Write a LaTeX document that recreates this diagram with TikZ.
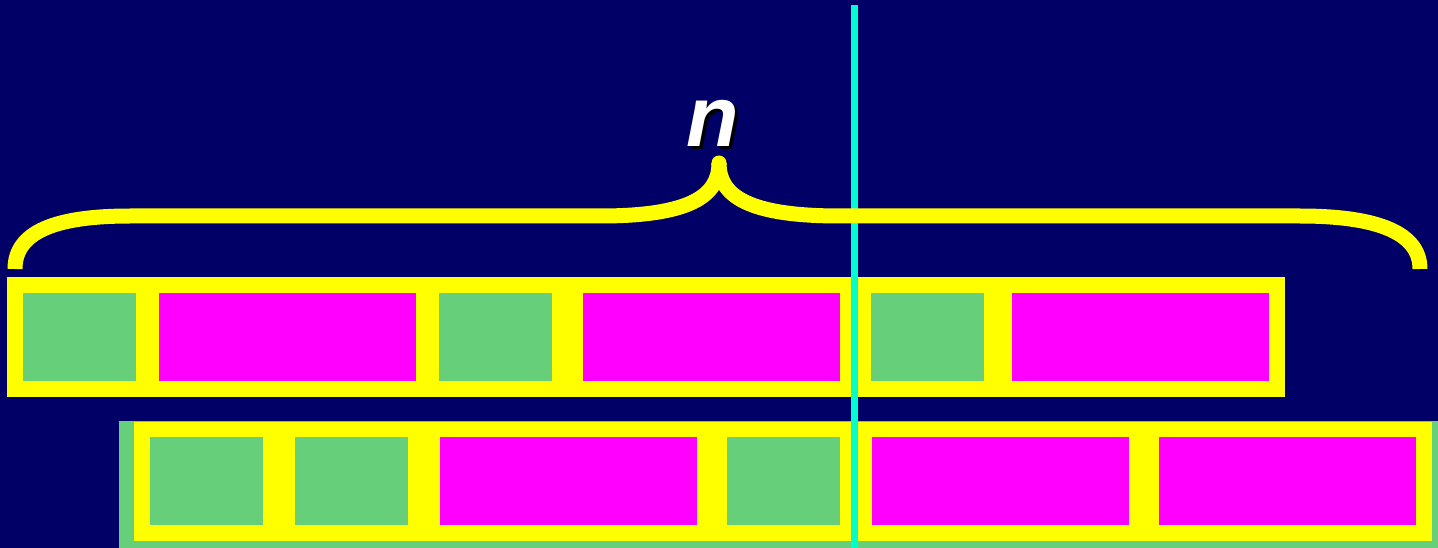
\documentclass[tikz,border=0pt]{standalone}
\usepackage{fontspec}
\newfontfamily\labelfont{Liberation Sans}
\definecolor{navy}{HTML}{000066}
\definecolor{cgreen}{HTML}{66CF7A}
\definecolor{cmag}{HTML}{FF00FF}
\definecolor{cyel}{HTML}{FFFF00}
\definecolor{ccyan}{HTML}{00FFCC}
\begin{document}
\begin{tikzpicture}[x=1pt,y=-1pt,
  gcell/.style={fill=cgreen,inner sep=0pt,anchor=north west,minimum height=88pt},
  mcell/.style={fill=cmag,inner sep=0pt,anchor=north west,minimum height=88pt},
  rowbar/.style={fill=cyel},
  brace/.style={draw=cyel,line width=15pt,line cap=butt,line join=round},
  lbl/.style={font=\labelfont\bfseries\itshape\fontsize{86}{86}\selectfont,inner sep=0pt,anchor=base}]
\useasboundingbox (0,0) rectangle (1438,548);
\fill[navy] (0,0) rectangle (1438,548);
% bottom green base
\fill[cgreen] (119,421) rectangle (1438,548);
% yellow rows
\fill[rowbar] (7,277) rectangle (1285,397);
\fill[rowbar] (134,422) rectangle (1432,541);
% top row cells
\node[gcell,minimum width=113pt] (t1) at (23,293) {};
\node[mcell,minimum width=257pt] (t2) at (159,293) {};
\node[gcell,minimum width=113pt] (t3) at (439,293) {};
\node[mcell,minimum width=257pt] (t4) at (583,293) {};
\node[gcell,minimum width=113pt] (t5) at (871,293) {};
\node[mcell,minimum width=257pt] (t6) at (1012,293) {};
% bottom row cells
\node[gcell,minimum width=113pt] (b1) at (150,437) {};
\node[gcell,minimum width=113pt] (b2) at (295,437) {};
\node[mcell,minimum width=257pt] (b3) at (440,437) {};
\node[gcell,minimum width=113pt] (b4) at (727,437) {};
\node[mcell,minimum width=257pt] (b5) at (872,437) {};
\node[mcell,minimum width=257pt] (b6) at (1159,437) {};
% cyan divider
\coordinate (ctop) at (854.5,5);
\coordinate (cbot) at (854.5,548);
\draw[ccyan,line width=7pt] (ctop) -- (cbot);
% brace
\coordinate (bl) at (15,269);
\coordinate (bt) at (719,163);
\coordinate (br) at (1420,269);
\draw[brace] (bl) .. controls (15,232) and (55,216) .. (130,216) -- (600,216)
  .. controls (690,216) and (719,196) .. (bt);
\draw[brace] (bt) .. controls (719,196) and (748,216) .. (840,216) -- (1300,216)
  .. controls (1380,216) and (1420,234) .. (br);
\fill[cyel] (bt) circle (7.5pt);
% label
\node[lbl,text=black] (nshadow) at (716,150) {n};
\node[lbl,text=white] (n) at (713,147) {n};
\end{tikzpicture}
\end{document}
